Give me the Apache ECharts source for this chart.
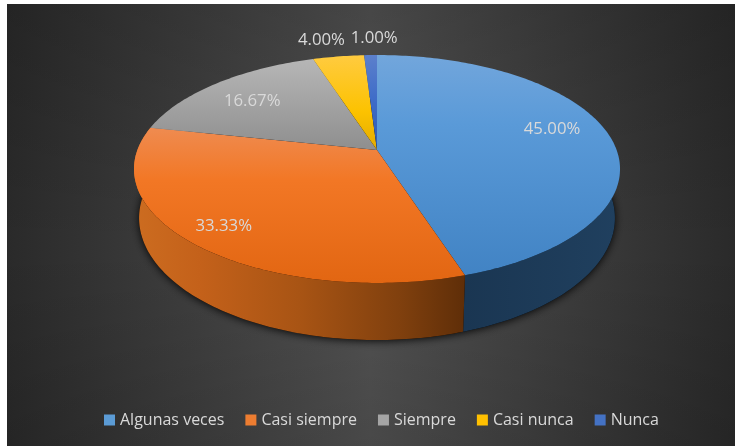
<!DOCTYPE html>
<html><head><meta charset="utf-8">
<style>html,body{margin:0;padding:0;background:#fff}#c{width:735px;height:446px}</style>
<script src="https://cdn.jsdelivr.net/npm/echarts@6/dist/echarts.min.js"></script>
</head><body><div id="c"></div>
<script>
const categories = ['Algunas veces','Casi siempre','Siempre','Casi nunca','Nunca'];
const values = [45.00,33.33,16.67,4.00,1.00];
const legendColors = ['#5B9BD5','#ED7D31','#A5A5A5','#FFC000','#4472C4'];
const labelRadius = [0.75,0.85,0.77,1.25,1.25];
const labelNudge = [[1,-8],[-1,-2],[1.5,4],[-9,3],[5,3]];

const CX=377, K=1/6;
const TOP={cy:150,R:239.6,S:110.8}, BOT={cy:197.7,R:234.6,S:118.6};
function pt(d,deg,f){
  f=f===undefined?1:f;
  const a=deg*Math.PI/180,u=Math.sin(a)*f,v=Math.cos(a)*f,den=1+K*v;
  return [CX+d.R*u/den,d.cy-d.S*v/den];
}
function arc(d,a0,a1){const n=Math.max(2,Math.ceil(Math.abs(a1-a0)));const r=[];for(let i=0;i<=n;i++)r.push(pt(d,a0+(a1-a0)*i/n));return r;}
const total=values.reduce((a,b)=>a+b,0);
const starts=[];values.reduce((acc,v,i)=>{starts[i]=acc;return acc+v;},0);
function lg(x,y,x2,y2,stops){return {type:'linear',x,y,x2,y2,global:true,colorStops:stops.map(s=>({offset:s[0],color:s[1]}))};}
const Y0=55,Y1=283,XL=135,XR=620;
const topFill=[
 lg(0,Y0,0,Y1,[[0,'#72a6dc'],[0.3,'#5a9ad8'],[1,'#4082c3']]),
 lg(0,Y0,0,Y1,[[0,'#f4a070'],[0.32,'#ef8b50'],[0.55,'#f27725'],[1,'#e26612']]),
 lg(0,Y0,0,Y1,[[0,'#b8b8b8'],[0.4,'#909090']]),
 lg(0,Y0,0,Y1,[[0,'#ffcb40'],[0.25,'#fcc200'],[0.41,'#e3ac00']]),
 lg(0,Y0,0,Y1,[[0,'#5c80cc'],[0.2,'#3e6cc8'],[0.41,'#2f5cb0']])
];
const wallFill=[
 lg(XL,0,XR,0,[[0.68,'#1a3652'],[1,'#20405f']]),
 lg(XL,0,XR,0,[[0,'#cc6c20'],[0.134,'#c4611a'],[0.34,'#a85414'],[0.546,'#80400e'],[0.68,'#5f2e08']]),
 lg(XL,0,XR,0,[[0,'#666'],[1,'#444']]),
 lg(XL,0,XR,0,[[0,'#8a6c00'],[1,'#806000']]),
 lg(XL,0,XR,0,[[0,'#294477'],[1,'#223a66']])
];
const series=[{
  type:'custom',coordinateSystem:'none',silent:true,data:[[total]],
  renderItem(){return {type:'polygon',z2:0,shape:{points:arc(BOT,0,360)},
    style:{fill:'#000',shadowBlur:9,shadowColor:'rgba(0,0,0,0.9)',shadowOffsetY:1}};}
}];
categories.forEach((name,i)=>{
  series.push({
    type:'custom',name,coordinateSystem:'none',silent:true,
    itemStyle:{color:legendColors[i]},
    data:[[values[i]]],
    renderItem(params,api){
      const v=api.value(0);
      const a0=starts[i]/total*360,a1=a0+v/total*360,mid=(a0+a1)/2;
      const wa0=Math.max(a0,60),wa1=Math.min(a1,300);
      const children=[];
      if(wa1>wa0){
        children.push({type:'polygon',z2:1,shape:{points:arc(TOP,wa0,wa1).concat(arc(BOT,wa1,wa0))},style:{fill:wallFill[i]}});
      }
      children.push({type:'polygon',z2:2,shape:{points:[pt(TOP,0,0)].concat(arc(TOP,a0,a1))},style:{fill:topFill[i]}});
      const p=pt(TOP,mid,labelRadius[i]);
      children.push({type:'text',z2:3,x:p[0]+labelNudge[i][0],y:p[1]+labelNudge[i][1],
        style:{text:v.toFixed(2)+'%',fill:'#d9d9d9',font:'16.8px "Open Sans"',align:'center',verticalAlign:'middle'}});
      return {type:'group',children};
    }
  });
});
const chart=echarts.init(document.getElementById('c'),null,{renderer:'canvas'});
chart.setOption({
  animation:false,
  backgroundColor:'#fff',
  graphic:[
    {type:'rect',z:-2,silent:true,shape:{x:7,y:4,width:728,height:442},
     style:{fill:{type:'linear',x:0,y:0,x2:1,y2:0,colorStops:[{offset:0,color:'#2a2a2a'},{offset:0.5,color:'#525252'},{offset:1,color:'#2a2a2a'}]}}},
    {type:'rect',z:-1,silent:true,shape:{x:7,y:4,width:728,height:442},
     style:{fill:{type:'linear',x:0,y:0,x2:0,y2:1,colorStops:[{offset:0,color:'rgba(0,0,0,0.14)'},{offset:0.55,color:'rgba(0,0,0,0)'},{offset:1,color:'rgba(0,0,0,0.12)'}]}}}
  ],
  legend:{data:categories,left:99,top:407,itemWidth:11,itemHeight:11,itemGap:21,icon:'rect',
    textStyle:{color:'#d9d9d9',fontSize:16,fontFamily:'Open Sans'}},
  series
});
</script></body></html>
